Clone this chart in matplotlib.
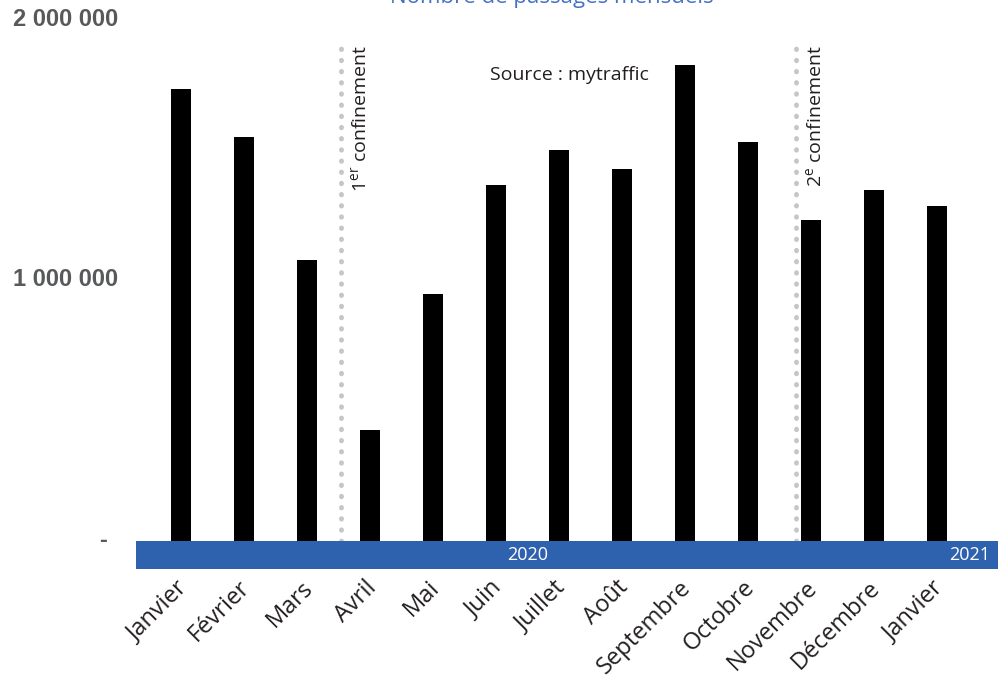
import matplotlib
matplotlib.use("Agg")
import matplotlib.pyplot as plt
import matplotlib.transforms as mtransforms

months = ["Janvier", "Février", "Mars", "Avril", "Mai", "Juin", "Juillet", "Août",
          "Septembre", "Octobre", "Novembre", "Décembre", "Janvier"]
passages = [1732000, 1548000, 1077000, 425000, 946000, 1364000, 1498000, 1425000,
            1824000, 1529000, 1230000, 1345000, 1284000]
ytick_vals = [0, 1000000, 2000000]
ytick_labels = ["-", "1 000 000", "2 000 000"]
confinements = [2.55, 9.76]
confinement_labels = ["1$^{\\mathregular{er}}$ confinement", "2$^{\\mathregular{e}}$ confinement"]
years = ["2020", "2021"]

BLUE = "#2E62AE"
W, H = 998, 680
fig = plt.figure(figsize=(W / 100, H / 100), dpi=100)
ax = fig.add_axes([136 / W, (H - 569) / H, 1 - 136 / W, 569 / H])

x = list(range(len(months)))
ax.bar(x, passages, width=0.32, color="black", zorder=3)

px_per_unit = 261 / 1e6
ax.set_ylim(-28 / px_per_unit, 541 / px_per_unit)
ax.set_xlim(-0.71, 12.97)
ymin = ax.get_ylim()[0]

ax.axhspan(ymin, 0, color=BLUE, zorder=2, lw=0)
ax.text(5.5, ymin / 2, years[0], color="white", fontsize=13, ha="center", va="center",
        family="Open Sans", zorder=4)
ax.text(12.85, ymin / 2, years[1], color="white", fontsize=13, ha="right", va="center",
        family="Open Sans", zorder=4)

for xc, lab in zip(confinements, confinement_labels):
    ax.vlines(xc, 0, 1.895e6, colors="#c8c4c8", linestyles=(0, (0.1, 2.2)), lw=3.5,
              capstyle="round", zorder=1)
    ax.text(xc + 0.31, 1.90e6, lab, rotation=90, ha="center", va="top", fontsize=14,
            family="Open Sans", color="#231f20")

ax.text(6.17, 1.785e6, "Source : mytraffic", ha="center", va="center", fontsize=14,
        family="Open Sans", color="#231f20")

ax.set_xticks(x)
ax.set_xticklabels(months, rotation=45, ha="right", va="center", rotation_mode="anchor",
                   fontsize=17, family="Open Sans", color="#231f20")
ax.tick_params(axis="x", length=0, pad=11)
offset = mtransforms.ScaledTranslation(3 / 100, 0, fig.dpi_scale_trans)
for lbl in ax.get_xticklabels():
    lbl.set_transform(lbl.get_transform() + offset)
ax.set_yticks([])
trans = mtransforms.blended_transform_factory(fig.transFigure, ax.transData)
for v, lab in zip(ytick_vals, ytick_labels):
    xpos = 118 / W if lab != "-" else 107 / W
    ax.text(xpos, v, lab, transform=trans, ha="right", va="center", fontsize=17,
            fontweight="bold", family="Liberation Sans", color="#58595b")

for s in ax.spines.values():
    s.set_visible(False)

fig.text(552 / W, 1 + 2 / H, "Nombre de passages mensuels", ha="center", va="center",
         fontsize=16, color="#4472C4", family="Open Sans")

fig.savefig("out.png", dpi=100)
